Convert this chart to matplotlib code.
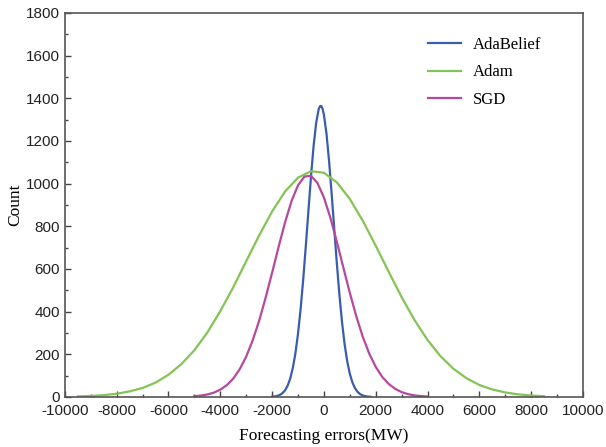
"""Error distributions of the three optimisers."""
import matplotlib
matplotlib.use("Agg")
import matplotlib.pyplot as plt
from matplotlib.ticker import MultipleLocator

plt.rcParams["axes.unicode_minus"] = False

# AdaBelief
x_adabelief = [-2000, -1900, -1800, -1700, -1600, -1500, -1400, -1300, -1200,
               -1100, -1000, -900, -800, -700, -600, -500, -400, -300, -200,
               -150, -100, -50, 0, 100, 200, 300, 400, 500, 600, 700, 800,
               900, 1000, 1100, 1200, 1300, 1400, 1500, 1600, 1700, 1800]
y_adabelief = [1.2, 2.5, 5.0, 9.6, 17.6, 31, 53, 86, 136,
               204, 296, 411, 549, 705, 869, 1031, 1174, 1284, 1350,
               1363, 1364, 1350, 1323, 1234, 1105, 951, 787, 625, 477, 350, 247,
               167, 109, 68, 41, 23.5, 13, 7, 3.5, 1.7, 0.8]

# Adam
x_adam = [-9500, -9000, -8500, -8000, -7500, -7000, -6500, -6000, -5500,
          -5000, -4500, -4000, -3500, -3000, -2500, -2000, -1500, -1000,
          -500, 0, 500, 1000, 1500, 2000, 2500, 3000, 3500, 4000, 4500,
          5000, 5500, 6000, 6500, 7000, 7500, 8000, 8500]
y_adam = [2.4, 4.5, 8.4, 15, 26, 42, 67, 104, 154,
          219, 302, 402, 514, 636, 757, 869, 963, 1028,
          1058, 1051, 1006, 928, 826, 709, 587, 468, 360, 267, 191,
          132, 88, 56, 35, 21, 12, 6.6, 3.5]

# SGD
x_sgd = [-5000, -4750, -4500, -4250, -4000, -3750, -3500, -3250, -3000,
         -2750, -2500, -2250, -2000, -1750, -1500, -1250, -1000, -750,
         -500, -250, 0, 250, 500, 750, 1000, 1250, 1500, 1750, 2000,
         2250, 2500, 2750, 3000, 3250, 3500, 3750, 4000]
y_sgd = [3.4, 6.4, 11.6, 20, 34, 55, 86, 130, 189,
         265, 357, 465, 582, 703, 818, 918, 992, 1033,
         1037, 1003, 935, 840, 727, 607, 488, 378, 282, 203, 141,
         94, 61, 38, 22.5, 13, 7.2, 3.9, 2.0]

fig = plt.figure(figsize=(6.06, 4.47), dpi=100)
ax = fig.add_axes([0.107, 0.112, 0.855, 0.859])

ax.plot(x_adabelief, y_adabelief, color="#3a5cb0", lw=1.6, label="AdaBelief")
ax.plot(x_adam, y_adam, color="#84c454", lw=1.6, label="Adam")
ax.plot(x_sgd, y_sgd, color="#b8489e", lw=1.6, label="SGD")

ax.set_xlim(-10000, 10000)
ax.set_ylim(0, 1800)
ax.xaxis.set_major_locator(MultipleLocator(2000))
ax.xaxis.set_minor_locator(MultipleLocator(1000))
ax.yaxis.set_major_locator(MultipleLocator(200))
ax.yaxis.set_minor_locator(MultipleLocator(100))
ax.tick_params(which="both", direction="in", colors="#444444",
               labelcolor="#222222")
ax.tick_params(which="major", length=4, width=1)
ax.tick_params(which="minor", length=2.5, width=1)
ax.tick_params(axis="x", which="major", pad=5)
for lab in ax.get_xticklabels() + ax.get_yticklabels():
    lab.set_fontfamily("Liberation Sans")
    lab.set_fontsize(11)
for sp in ax.spines.values():
    sp.set_color("#555555")
    sp.set_linewidth(1.2)

ax.set_xlabel("Forecasting errors(MW)", family="Liberation Serif",
              fontsize=12.5, labelpad=7)
ax.set_ylabel("Count", family="Liberation Serif", fontsize=12.5, labelpad=2)

ax.legend(loc="upper left", bbox_to_anchor=(0.671, 0.977), frameon=False,
          prop={"family": "Liberation Serif", "size": 12},
          handlelength=2.0, handletextpad=0.7, labelspacing=0.7)

fig.savefig("out.png", dpi=100)
